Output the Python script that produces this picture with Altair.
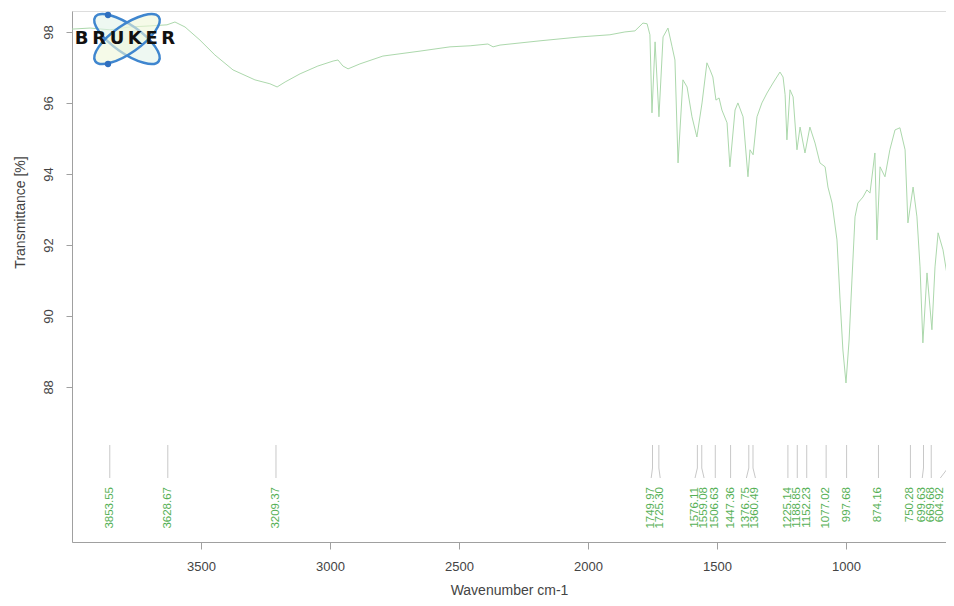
import altair as alt
import pandas as pd

# ---- spectrum ----
wavenumber = [4000, 3930, 3853, 3775, 3698, 3632, 3601, 3562, 3504, 3446,
              3376, 3291, 3233, 3205, 3174, 3116, 3047, 2988, 2969, 2950,
              2930, 2884, 2795, 2651, 2535, 2457, 2388, 2368, 2341, 2186,
              2031, 1915, 1857, 1818, 1787, 1771, 1760, 1752, 1740, 1725,
              1709, 1690, 1674, 1663, 1651, 1632, 1616, 1597, 1578, 1558,
              1539, 1527, 1516, 1504, 1492, 1481, 1461, 1450, 1430, 1419,
              1399, 1380, 1372, 1360, 1345, 1326, 1306, 1283, 1256, 1244,
              1236, 1229, 1217, 1205, 1190, 1178, 1159, 1140, 1120, 1101,
              1081, 1070, 1054, 1035, 1023, 1012, 1000, 988, 977, 965,
              954, 934, 919, 907, 888, 880, 868, 849, 830, 810,
              791, 771, 760, 740, 725, 713, 702, 686, 667, 655,
              643, 624, 605, 593, 581]
transmittance = [98.08, 98.11, 98.06, 98.14, 98.17, 98.20, 98.28, 98.14, 97.77, 97.35,
                 96.93, 96.65, 96.54, 96.45, 96.59, 96.82, 97.04, 97.18, 97.21, 97.04,
                 96.96, 97.10, 97.32, 97.46, 97.58, 97.61, 97.66, 97.58, 97.63, 97.75,
                 97.86, 97.92, 98.00, 98.03, 98.25, 98.23, 97.92, 95.72, 97.72, 95.61,
                 97.86, 98.11, 97.58, 97.21, 94.31, 96.65, 96.45, 95.61, 95.04, 96.00,
                 97.13, 96.93, 96.73, 96.08, 96.14, 95.80, 95.44, 94.20, 95.80, 96.00,
                 95.61, 93.92, 94.68, 94.54, 95.61, 96.00, 96.28, 96.56, 96.87, 96.73,
                 96.23, 94.96, 96.37, 96.17, 94.68, 95.32, 94.59, 95.32, 94.87, 94.31,
                 94.20, 93.63, 93.18, 92.14, 90.45, 89.04, 88.11, 89.32, 91.01, 92.79,
                 93.18, 93.35, 93.55, 93.46, 94.59, 92.14, 94.20, 93.92, 94.68, 95.24,
                 95.30, 94.68, 92.62, 93.63, 92.79, 91.38, 89.24, 91.21, 89.61, 91.38,
                 92.34, 91.86, 91.01, 90.45, 87.49]

# ---- peak picks ----
peak_wn = [3853.55, 3628.67, 3209.37, 1749.97, 1725.30, 1576.11, 1559.08,
           1506.63, 1447.36, 1376.75, 1360.49, 1225.14, 1188.85, 1152.23,
           1077.02, 997.68, 874.16, 750.28, 699.63, 669.68, 604.92]
peak_text = ["3853.55", "3628.67", "3209.37", "1749.97", "1725.30", "1576.11",
             "1559.08", "1506.63", "1447.36", "1376.75", "1360.49", "1225.14",
             "1188.85", "1152.23", "1077.02", "997.68", "874.16", "750.28",
             "699.63", "669.68", "604.92"]

x_ticks = [3500, 3000, 2500, 2000, 1500, 1000]
y_ticks = [88, 90, 92, 94, 96, 98]

X_DOMAIN = [612.4, 4000]
Y_DOMAIN = [83.63, 98.59]
W, H = 874, 531


def spread(vals, gap, lo):
    pos = list(vals)
    for _ in range(1000):
        moved = False
        for i in range(len(pos) - 1):
            d = pos[i] - pos[i + 1]
            if d < gap - 1e-9:
                s = (gap - d) / 2.0
                pos[i] += s
                pos[i + 1] -= s
                moved = True
        if not moved:
            break
    # keep every label inside the plotted range
    if pos[-1] < lo:
        pos[-1] = lo
        for i in range(len(pos) - 2, -1, -1):
            pos[i] = max(pos[i], pos[i + 1] + gap)
    return pos


label_pos = spread(peak_wn, 35.0, X_DOMAIN[0] + 22)

spec = pd.DataFrame({"wn": wavenumber, "T": transmittance})
peaks = pd.DataFrame({"wn": peak_wn, "lab": label_pos, "txt": peak_text})

xs = alt.Scale(domain=X_DOMAIN, reverse=True, nice=False, zero=False)
ys = alt.Scale(domain=Y_DOMAIN, nice=False, zero=False)

line = alt.Chart(spec).mark_line(color="#acd8ac", strokeWidth=1, clip=True).encode(
    x=alt.X("wn:Q", scale=xs,
            axis=alt.Axis(values=x_ticks, format="d", title="Wavenumber cm-1", grid=False,
                          tickSize=7, labelPadding=11, labelFontSize=13,
                          titleFontSize=14, titleFontWeight="normal",
                          titleY=48, titleBaseline="middle",
                          labelColor="#444444", titleColor="#444444",
                          domainColor="#a0a0a0", tickColor="#a0a0a0",
                          labelFont="Liberation Sans", titleFont="Liberation Sans")),
    y=alt.Y("T:Q", scale=ys,
            axis=alt.Axis(values=y_ticks, title="Transmittance [%]", grid=False,
                          tickSize=6, labelAngle=-90, labelAlign="center",
                          labelBaseline="bottom", labelPadding=11,
                          labelFontSize=13, titleFontSize=14,
                          titleFontWeight="normal", titleX=-52, titleY=201,
                          titleAlign="center", titleBaseline="middle",
                          labelColor="#444444", titleColor="#444444",
                          domainColor="#a0a0a0", tickColor="#a0a0a0",
                          labelFont="Liberation Sans", titleFont="Liberation Sans")),
)

vrule = alt.Chart(peaks).mark_rule(color="#c8c8c8", strokeWidth=1, clip=True).encode(
    x=alt.X("wn:Q", scale=xs), y=alt.value(434), y2=alt.value(457)
)
drule = alt.Chart(peaks).mark_rule(color="#c8c8c8", strokeWidth=1, clip=True).encode(
    x=alt.X("wn:Q", scale=xs), x2="lab:Q", y=alt.value(457), y2=alt.value(467)
)
labels = alt.Chart(peaks).mark_text(
    angle=270, align="right", baseline="middle", fontSize=11.5,
    color="#55b055", font="Liberation Sans"
).encode(x=alt.X("lab:Q", scale=xs), y=alt.value(476), text="txt:N")

# ---- logo ----
one = pd.DataFrame({"k": [0]})
ellipse = "M -1 0 A 1 0.36 0 1 1 1 0 A 1 0.36 0 1 1 -1 0 Z"
orbit1 = alt.Chart(one).mark_point(
    shape=ellipse, size=6000, angle=35, filled=True, fill="#e3f3ea",
    fillOpacity=0.6, stroke="#3f86cf", strokeWidth=2.5, opacity=1
).encode(x=alt.value(55), y=alt.value(28))
orbit2 = alt.Chart(one).mark_point(
    shape=ellipse, size=6000, angle=145, filled=True, fill="#eef6d8",
    fillOpacity=0.6, stroke="#3f86cf", strokeWidth=2.5, opacity=1
).encode(x=alt.value(55), y=alt.value(28))
dot1 = alt.Chart(one).mark_circle(size=40, color="#2f6fbf", opacity=1).encode(
    x=alt.value(36), y=alt.value(4))
dot2 = alt.Chart(one).mark_circle(size=40, color="#2f6fbf", opacity=1).encode(
    x=alt.value(36), y=alt.value(53))
brand = alt.Chart(one).mark_text(
    text="B\u2009R\u2009U\u2009K\u2009E\u2009R", font="DejaVu Sans", fontWeight="bold",
    fontSize=18, color="#111111", align="center", baseline="middle"
).encode(x=alt.value(53), y=alt.value(28))

chart = alt.layer(line, vrule, drule, labels, orbit1, orbit2, dot1, dot2, brand).properties(
    width=W, height=H,
    autosize=alt.AutoSizeParams(type="none"),
    padding={"left": 64, "top": 3, "right": 0, "bottom": 56},
).configure_view(stroke="#a0a0a0", strokeWidth=1).configure(background="white")

chart.save("out.html", embed_options={"renderer": "svg", "actions": False})
